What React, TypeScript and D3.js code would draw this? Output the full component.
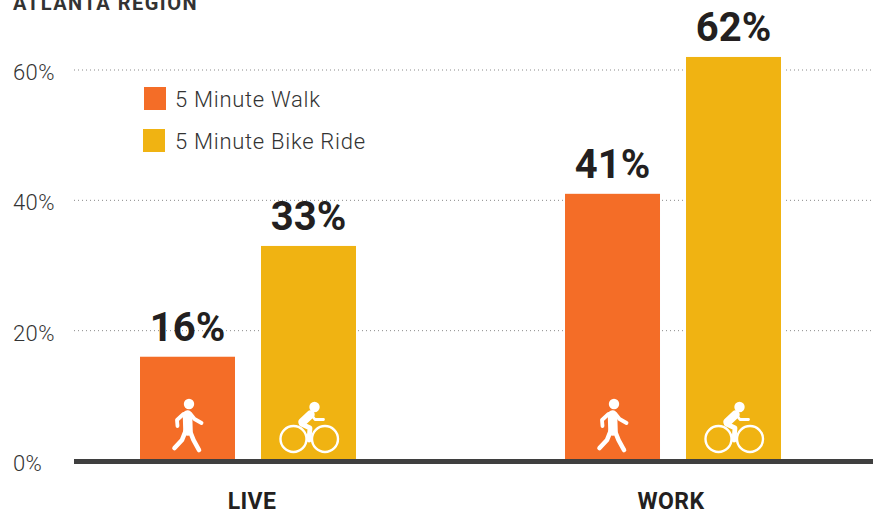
import * as d3 from "d3";

const groups = ["LIVE", "WORK"];
const series = ["5 Minute Walk", "5 Minute Bike Ride"];
const walkValues = [16, 41];
const bikeValues = [33, 62];
const yTicks = [0, 20, 40, 60];
const title = "ATLANTA REGION";

const seriesColors = ["#F46D27", "#F0B312"];
const textColor = "#333333";
const valueColor = "#231F20";
const font = "Roboto, sans-serif";

const width = 873;
const height = 512;

const y = d3.scaleLinear().domain([0, 60]).range([461, 70]);
const x0 = d3.scaleBand().domain(groups).range([140, 781]).paddingInner(0.4918);
const x1 = d3.scaleBand().domain(series).range([0, x0.bandwidth()]).paddingInner(0.2149);

const rows = groups.flatMap((g, i) => [
  { group: g, key: series[0], value: walkValues[i], color: seriesColors[0] },
  { group: g, key: series[1], value: bikeValues[i], color: seriesColors[1] },
]);

// icons are drawn around the bar centre, with 0 at the axis line
function WalkIcon({ cx }: { cx: number }) {
  return (
    <g transform={`translate(${cx}, ${y(0)})`} fill="none" stroke="#fff" strokeLinecap="round" strokeLinejoin="round">
      <circle cx={1.5} cy={-57} r={5.2} fill="#fff" stroke="none" />
      <path d="M-4,-47 L-10.5,-41 L-10,-35" strokeWidth={3.8} />
      <path d="M3,-47 L7,-42 L14,-38" strokeWidth={3.8} />
      <path d="M0,-46 L0.5,-30" strokeWidth={9.5} />
      <path d="M-1.5,-31 L-5.5,-21 L-13,-13" strokeWidth={4.6} />
      <path d="M2,-31 L6,-21 L11.5,-11" strokeWidth={4.6} />
    </g>
  );
}

function BikeIcon({ cx }: { cx: number }) {
  return (
    <g transform={`translate(${cx}, ${y(0)})`} fill="none" stroke="#fff" strokeLinecap="round" strokeLinejoin="round">
      <circle cx={-15} cy={-22} r={13} strokeWidth={2.4} />
      <circle cx={16.5} cy={-22} r={13} strokeWidth={2.4} />
      <circle cx={6} cy={-54} r={5.2} fill="#fff" stroke="none" />
      <path d="M2,-46.5 L-6,-39" strokeWidth={8.5} />
      <path d="M-7,-37 L1.5,-33 L0.5,-21" strokeWidth={4.8} />
      <path d="M3,-46 L6.5,-41.5 L15,-41.5" strokeWidth={2.8} />
    </g>
  );
}

export default function App() {
  return (
    <svg
      width={width}
      height={height}
      style={{ position: "absolute", left: 0, top: 0, background: "#fff" }}
      fontFamily={font}
    >
      <text x={13} y={10} fontSize={20} fontWeight={700} fill={textColor} letterSpacing={1.5}>
        {title}
      </text>

      {yTicks.filter((t) => t > 0).map((t) => (
        <line
          key={t}
          x1={74}
          x2={873}
          y1={y(t)}
          y2={y(t)}
          stroke="#8a8a8a"
          strokeWidth={1}
          strokeDasharray="1 3"
        />
      ))}
      {yTicks.map((t) => (
        <text key={t} x={13} y={y(t) + 10} fontSize={22} fontWeight={300} fill={textColor} letterSpacing={0.4}>
          {t}%
        </text>
      ))}

      {rows.map((d) => {
        const bx = (x0(d.group) ?? 0) + (x1(d.key) ?? 0);
        const cx = bx + x1.bandwidth() / 2;
        return (
          <g key={d.group + d.key}>
            <rect
              x={bx - 3}
              y={y(d.value) - 1}
              width={x1.bandwidth() + 6}
              height={y(0) - y(d.value) + 1}
              fill="#fff"
              opacity={d.value > 60 ? 1 : 0}
            />
            <rect x={bx} y={y(d.value)} width={x1.bandwidth()} height={y(0) - y(d.value)} fill={d.color} />
            <text x={cx} y={y(d.value) - 16} textAnchor="middle" fontSize={40} fontWeight={700} fill={valueColor}>
              {d.value}%
            </text>
            {d.key === series[0] ? <WalkIcon cx={cx} /> : <BikeIcon cx={cx} />}
          </g>
        );
      })}

      <line x1={74} x2={873} y1={y(0) + 0.5} y2={y(0) + 0.5} stroke="#3f3f3f" strokeWidth={5} />

      {groups.map((g, i) => (
        <text
          key={g}
          x={(x0(g) ?? 0) + x0.bandwidth() / 2 + (i === 0 ? 4 : -2)}
          y={509}
          textAnchor="middle"
          fontSize={23}
          fontWeight={700}
          fill={valueColor}
          letterSpacing={0.4}
        >
          {g}
        </text>
      ))}

      {series.map((s, i) => (
        <g key={s}>
          <rect x={i === 0 ? 144 : 143} y={87 + i * 42} width={22} height={23} fill={seriesColors[i]} />
          <text x={175} y={107 + i * 42} fontSize={22} fontWeight={300} fill={textColor} letterSpacing={0.72}>
            {s}
          </text>
        </g>
      ))}
    </svg>
  );
}
